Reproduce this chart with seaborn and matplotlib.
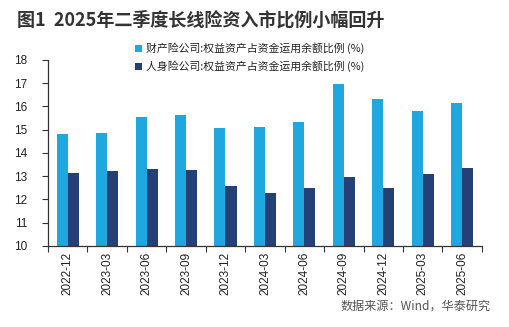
import matplotlib
matplotlib.use("Agg")
import matplotlib.pyplot as plt
import seaborn as sns
import pandas as pd
import numpy as np
from matplotlib.patches import Patch

categories = ["2022-12", "2023-03", "2023-06", "2023-09", "2023-12", "2024-03",
              "2024-06", "2024-09", "2024-12", "2025-03", "2025-06"]
property_ratio = [14.80, 14.86, 15.53, 15.62, 15.09, 15.12, 15.31, 16.97, 16.32, 15.79, 16.15]
life_ratio = [13.14, 13.20, 13.31, 13.25, 12.58, 12.27, 12.49, 12.97, 12.49, 13.08, 13.34]
series_names = ["财产险公司:权益资产占资金运用余额比例 (%)", "人身险公司:权益资产占资金运用余额比例 (%)"]
colors = ["#1FA8DF", "#253F77"]

df = pd.DataFrame({
    "date": categories * 2,
    "value": property_ratio + life_ratio,
    "series": [series_names[0]] * len(categories) + [series_names[1]] * len(categories),
})

sns.set_style("white")
plt.rcParams["font.family"] = ["Noto Sans CJK SC", "DejaVu Sans"]

fig = plt.figure(figsize=(5.10, 3.27), dpi=100)
ax = fig.add_axes([0.094, 0.248, 0.851, 0.569])

sns.barplot(data=df, x="date", y="value", hue="series", palette=colors,
            width=0.56, saturation=1, ax=ax, legend=False, gap=0,
            linewidth=0, edgecolor="none")

ax.set_ylim(10, 18)
ax.set_xlim(-0.5, len(categories) - 0.5)
ax.set_yticks(np.arange(10, 19, 1))
ax.set_xlabel("")
ax.set_ylabel("")
for s in ["top", "right"]:
    ax.spines[s].set_visible(False)
for s in ["left", "bottom"]:
    ax.spines[s].set_color("#333333")
    ax.spines[s].set_linewidth(0.9)

ax.tick_params(axis="y", direction="out", length=4, width=0.8, color="#333333",
               labelsize=8.5, labelcolor="#222222", left=True, pad=11)
for lbl in ax.get_yticklabels():
    lbl.set_fontfamily(["Liberation Sans", "DejaVu Sans"])
ax.set_xticks(range(len(categories)))
ax.set_xticklabels(categories, rotation=90, fontsize=8.5, color="#222222")
for lbl in ax.get_xticklabels():
    lbl.set_fontfamily(["Liberation Sans", "DejaVu Sans"])
ax.tick_params(axis="x", which="major", length=0, pad=4)
ax.set_xticks(np.arange(-0.5, len(categories) + 0.5, 1), minor=True)
ax.tick_params(axis="x", which="minor", direction="out", length=4, width=0.8,
               color="#333333", bottom=True)

handles = [Patch(facecolor=c, edgecolor="none") for c in colors]
fig.legend(handles, series_names, loc="upper left", bbox_to_anchor=(0.245, 0.9),
           frameon=False, fontsize=7.8, handlelength=0.65, handleheight=0.65,
           handletextpad=0.4, labelspacing=0.6, labelcolor="#222222")

fig.text(0.033, 0.939, "图1  2025年二季度长线险资入市比例小幅回升", fontsize=13,
         fontweight="bold", color="#333333", va="center", ha="left")
fig.text(0.962, 0.064, "数据来源：Wind，华泰研究", fontsize=8.7, color="#555555",
         ha="right", va="center")

fig.savefig("out.png", dpi=100)
